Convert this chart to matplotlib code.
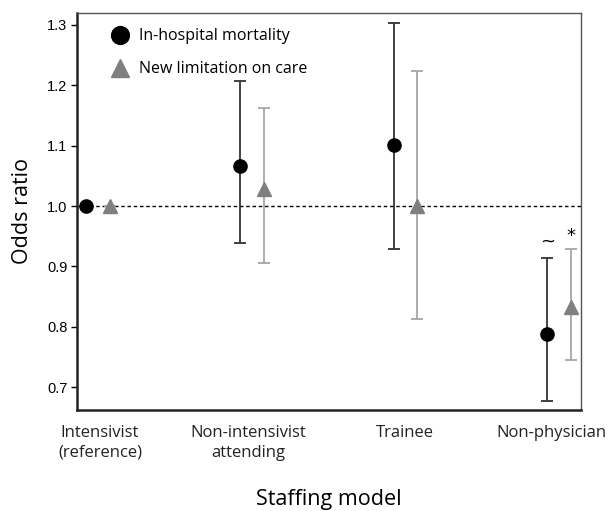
import numpy as np
import matplotlib
matplotlib.use('Agg')
import matplotlib.pyplot as plt

# staffing models and odds ratios
categories = ['Intensivist\n(reference)', 'Non-intensivist\nattending', 'Trainee', 'Non-physician']
mort_or = [1.0, 1.066, 1.101, 0.788]
mort_lo = [1.0, 0.939, 0.928, 0.677]
mort_hi = [1.0, 1.208, 1.304, 0.914]
limit_or = [1.0, 1.029, 1.0, 0.833]
limit_lo = [1.0, 0.906, 0.812, 0.745]
limit_hi = [1.0, 1.163, 1.223, 0.929]
marks_mort = ['', '', '', '~']
marks_limit = ['', '', '', '*']

fig = plt.figure(figsize=(6.08, 5.11), dpi=100)
ax = fig.add_axes([0.1266, 0.1977, 0.829, 0.777])

x = np.arange(len(categories))
off = 0.155
label_shift = [0.09, 0.055, 0.075, 0.03]

def err(v, lo, hi):
    v, lo, hi = map(np.asarray, (v, lo, hi))
    return np.vstack([v - lo, hi - v])

ax.axhline(1.0, color='black', ls=(0, (2.5, 2)), lw=1.0, zorder=1)

ax.errorbar(x, mort_or, yerr=err(mort_or, mort_lo, mort_hi), fmt='none',
            ecolor='#333333', elinewidth=1.3, capsize=4, capthick=1.3, zorder=2)
ax.errorbar(x + off, limit_or, yerr=err(limit_or, limit_lo, limit_hi), fmt='none',
            ecolor='#a6a6a6', elinewidth=1.3, capsize=4, capthick=1.3, zorder=2)
h1, = ax.plot(x, mort_or, 'o', color='black', ms=9.5, ls='none', zorder=3,
              label='In-hospital mortality')
h2, = ax.plot(x + off, limit_or, '^', color='#7f7f7f', ms=9.5, ls='none', zorder=3,
              label='New limitation on care')

for i in range(len(categories)):
    if marks_mort[i]:
        ax.annotate(marks_mort[i], (x[i], mort_hi[i]), xytext=(0, 5),
                    textcoords='offset points', ha='center', va='bottom',
                    fontsize=13, family='DejaVu Sans')
    if marks_limit[i]:
        ax.annotate(marks_limit[i], (x[i] + off, limit_hi[i]), xytext=(0, 3),
                    textcoords='offset points', ha='center', va='bottom',
                    fontsize=13, family='DejaVu Sans')

ax.set_xlim(-0.06, 3.22)
ax.set_ylim(0.662, 1.32)
ax.set_yticks([0.7, 0.8, 0.9, 1.0, 1.1, 1.2, 1.3])
ax.set_yticklabels(['0.7', '0.8', '0.9', '1.0', '1.1', '1.2', '1.3'],
                   family='Liberation Sans', fontsize=10.5)
ax.set_xticks(x + np.array(label_shift))
ax.set_xticklabels(categories, family='Open Sans', fontsize=12, color='#222222',
                   linespacing=1.3)
ax.tick_params(axis='x', length=0, pad=11)
ax.tick_params(axis='y', length=4, width=1, direction='out', pad=3)

for s in ['left', 'bottom']:
    ax.spines[s].set_linewidth(1.8)
    ax.spines[s].set_color('#222222')
for s in ['top', 'right']:
    ax.spines[s].set_linewidth(1.0)
    ax.spines[s].set_color('#555555')

ax.set_ylabel('Odds ratio', family='Open Sans', fontsize=15.5, labelpad=10)
ax.set_xlabel('Staffing model', family='Open Sans', fontsize=15.5, labelpad=20)

leg = ax.legend(handles=[h1, h2], loc='upper left', frameon=False,
                prop={'family': 'Open Sans', 'size': 11.5}, markerscale=1.35,
                handletextpad=0.2, borderaxespad=0.2, labelspacing=1.05,
                bbox_to_anchor=(0.035, 0.985))

fig.savefig('out.png', dpi=100)
